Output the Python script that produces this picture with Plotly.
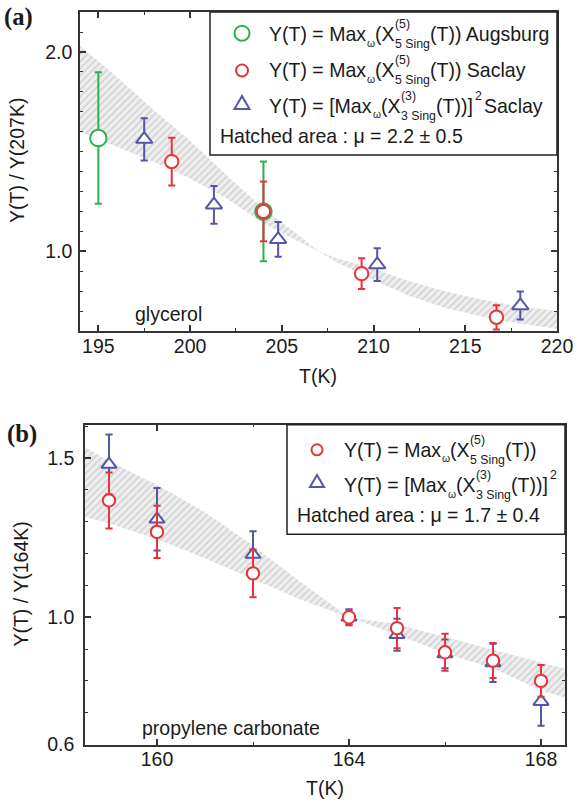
import plotly.graph_objects as go

W, H = 580, 802          # design frame (reference pixels)
FW, FH = 596, 818        # figure size actually laid out
K = FW / W               # pixel-size factor

# ---------------- data : panel (a) glycerol ----------------
T_aug = [195.0, 204.0]
Y_aug = [1.568, 1.20]
E_aug = [0.33, 0.25]

T_sac5 = [199.0, 204.0, 209.35, 216.7]
Y_sac5 = [1.45, 1.20, 0.888, 0.669]
E_sac5 = [0.12, 0.15, 0.077, 0.061]

T_sac3 = [197.5, 201.3, 204.8, 210.2, 218.0]
Y_sac3 = [1.562, 1.233, 1.06, 0.933, 0.728]
E_sac3 = [0.106, 0.095, 0.087, 0.082, 0.07]

T_band_a = [194, 196, 198, 200, 202, 204, 206, 207, 208, 210, 212, 214, 216, 218, 220]
band_a_mu_high = [2.03, 1.875, 1.71, 1.555, 1.38, 1.215, 1.075, 1.0, 0.945, 0.856, 0.775, 0.714, 0.67, 0.636, 0.612]
band_a_mu_low = [1.60, 1.525, 1.45, 1.365, 1.265, 1.14, 1.045, 1.0, 0.965, 0.912, 0.849, 0.797, 0.756, 0.722, 0.70]

# ---------------- data : panel (b) propylene carbonate ----------------
T_pc = [159, 160, 162, 164, 165, 166, 167, 168]
Y_pc5 = [1.367, 1.268, 1.138, 1.0, 0.966, 0.89, 0.864, 0.80]
E_pc5 = [0.088, 0.082, 0.075, 0.022, 0.063, 0.058, 0.055, 0.05]
Y_pc3 = [1.48, 1.308, 1.197, 1.0, 0.945, 0.885, 0.857, 0.735]
E_pc3 = [0.094, 0.098, 0.073, 0.025, 0.05, 0.045, 0.06, 0.076]

T_band_b = [158.5, 159, 160, 161, 162, 163, 164, 165, 166, 167, 168, 168.5]
band_b_mu_high = [1.535, 1.49, 1.415, 1.33, 1.225, 1.11, 1.0, 0.945, 0.887, 0.84, 0.77, 0.748]
band_b_mu_low = [1.315, 1.295, 1.245, 1.185, 1.12, 1.055, 1.0, 0.978, 0.94, 0.898, 0.858, 0.838]

# ---------------- styles ----------------
SANS = "Liberation Sans, Arial, sans-serif"
SERIF = "Liberation Serif, Times New Roman, serif"
TXT = "#1a1a1a"
AX = "#333333"
GREEN = "#2db14f"
RED = "#e8333b"
BLUE = "#5656a8"
FS = 19 * K
SUB = 12 * K

fig = go.Figure()


def band(T, e1, e2, xa, ya):
    return go.Scatter(
        x=list(T) + list(T)[::-1], y=list(e1) + list(e2)[::-1],
        xaxis=xa, yaxis=ya, mode="lines", fill="toself",
        line=dict(width=0, color="rgba(0,0,0,0)"),
        fillcolor="#e6e6e6",
        fillpattern=dict(shape="/", bgcolor="#eeeeee", fgcolor="#b4b4b4", size=5, solidity=0.3),
        hoverinfo="skip", showlegend=False)


def pts(T, Y, E, color, symbol, size, xa, ya):
    return go.Scatter(
        x=T, y=Y, xaxis=xa, yaxis=ya, mode="markers",
        error_y=dict(type="data", array=E, color=color, thickness=2, width=3.5 * K),
        marker=dict(symbol=symbol, size=size * K, color="white", line=dict(color=color, width=2)),
        showlegend=False)


fig.add_trace(band(T_band_a, band_a_mu_high, band_a_mu_low, "x", "y"))
fig.add_trace(pts(T_aug, Y_aug, E_aug, GREEN, "circle", 16, "x", "y"))
fig.add_trace(pts(T_sac5, Y_sac5, E_sac5, RED, "circle", 13, "x", "y"))
fig.add_trace(pts(T_sac3, Y_sac3, E_sac3, BLUE, "triangle-up", 14, "x", "y"))

fig.add_trace(band(T_band_b, band_b_mu_high, band_b_mu_low, "x2", "y2"))
fig.add_trace(pts(T_pc, Y_pc3, E_pc3, BLUE, "triangle-up", 13, "x2", "y2"))
fig.add_trace(pts(T_pc, Y_pc5, E_pc5, RED, "circle", 12, "x2", "y2"))


def axstyle(**kw):
    d = dict(showline=True, linecolor=AX, linewidth=1.5, mirror="allticks",
             ticks="inside", ticklen=6 * K, tickwidth=1.5, tickcolor=AX,
             showgrid=False, zeroline=False, fixedrange=True,
             tickfont=dict(family=SANS, size=FS, color=TXT))
    d.update(kw)
    return d


def minor(dt, t0):
    return dict(ticks="inside", ticklen=3 * K, tickwidth=1.2, tickcolor=AX, dtick=dt, tick0=t0)


def py(v):
    return 1 - v / H


fig.update_layout(
    width=FW, height=FH, margin=dict(l=0, r=0, t=0, b=0),
    paper_bgcolor="white", plot_bgcolor="white", showlegend=False,
    xaxis=axstyle(domain=[80 / W, 557 / W], range=[194, 220], anchor="y",
                  tickmode="linear", tick0=195, dtick=5, ticklabelstandoff=-3,
                  minor=minor(2.5, 195)),
    yaxis=axstyle(domain=[py(329), py(12)], range=[0.6, 2.2], anchor="x",
                  tickmode="linear", tick0=0, dtick=1.0, tickformat=".1f", ticklabelstandoff=2,
                  minor=minor(0.1, 0)),
    xaxis2=axstyle(domain=[85 / W, 565 / W], range=[158.5, 168.5], anchor="y2",
                   tickmode="array", tickvals=[160, 164, 168], ticklabelstandoff=-4,
                   minor=minor(2, 160)),
    yaxis2=axstyle(domain=[py(740), py(422)], range=[0.6, 1.605], anchor="x2",
                   tickmode="array", tickvals=[0.6, 1.0, 1.5], tickformat=".1f", ticklabelstandoff=5,
                   minor=minor(0.1, 0.6)),
)

annots = []
shapes = []


def txt(x, y, s, size=FS, anchor="left", family=SANS, **kw):
    annots.append(dict(x=x / W, y=py(y), xref="paper", yref="paper", text=s, showarrow=False,
                       xanchor=anchor, yanchor="middle",
                       font=dict(family=family, size=size, color=TXT), **kw))


def circ(cx, cy, d, color):
    r = d / 2
    shapes.append(dict(type="circle", xref="paper", yref="paper",
                       x0=(cx - r) / W, x1=(cx + r) / W, y0=py(cy + r), y1=py(cy - r),
                       line=dict(color=color, width=2), fillcolor="white", layer="above"))


def tri(cx, cy, w, h, color):
    p = "M {} {} L {} {} L {} {} Z".format(
        (cx - w / 2) / W, py(cy + h / 3), (cx + w / 2) / W, py(cy + h / 3), cx / W, py(cy - 2 * h / 3))
    shapes.append(dict(type="path", xref="paper", yref="paper", path=p,
                       line=dict(color=color, width=2), fillcolor="white", layer="above"))


def box(x0, y0, x1, y1):
    shapes.append(dict(type="rect", xref="paper", yref="paper",
                       x0=x0 / W, x1=x1 / W, y0=py(y1), y1=py(y0),
                       line=dict(color="#222", width=1.5), fillcolor="white", layer="above"))


# panel labels
txt(2, 17, "<b>(a)</b>", size=24 * K, family=SERIF)
txt(5, 431, "<b>(b)</b>", size=24 * K, family=SERIF)

# axis titles
txt(17, 160, "Y(T) / Y(207K)", anchor="center", textangle=-90)
txt(318, 374, "T(K)", anchor="center")
txt(21, 581, "Y(T) / Y(164K)", anchor="center", textangle=-90)
txt(325, 783, "T(K)", anchor="center")

# sample names
txt(133, 312, "glycerol")
txt(140, 723, "propylene carbonate")

# ---- legend (a)
box(210, 12, 557, 154)
circ(242, 33, 15, GREEN)
circ(242, 70, 12, RED)
tri(242, 104, 15, 13, BLUE)
for yc, tail in [(34, "(T)) Augsburg"), (70, "(T)) Saclay")]:
    txt(267, yc, "Y(T) = Max")
    txt(365, yc + 9, "ω", size=SUB - 2)
    txt(373, yc, "(X")
    txt(393, yc - 10, "(5)", size=SUB)
    txt(393, yc + 10, "5 Sing", size=SUB)
    txt(428, yc, tail)
yc = 105
txt(267, yc, "Y(T) = [Max")
txt(371, yc + 9, "ω", size=SUB - 2)
txt(379, yc, "(X")
txt(399, yc - 10, "(3)", size=SUB)
txt(399, yc + 10, "3 Sing", size=SUB)
txt(434, yc, "(T))]")
txt(473, yc - 10, "2", size=SUB)
txt(482, yc, "Saclay")
txt(218, 135, "Hatched area : μ = 2.2 ± 0.5")

# ---- legend (b)
box(287, 422, 565, 531)
circ(317, 447, 11, RED)
tri(317, 480, 14, 12, BLUE)
yc = 447
txt(342, yc, "Y(T) = Max")
txt(440, yc + 9, "ω", size=SUB - 2)
txt(448, yc, "(X")
txt(468, yc - 10, "(5)", size=SUB)
txt(468, yc + 10, "5 Sing", size=SUB)
txt(503, yc, "(T))")
yc = 482
txt(342, yc, "Y(T) = [Max")
txt(446, yc + 9, "ω", size=SUB - 2)
txt(454, yc, "(X")
txt(474, yc - 10, "(3)", size=SUB)
txt(474, yc + 10, "3 Sing", size=SUB)
txt(509, yc, "(T))]")
txt(548, yc - 10, "2", size=SUB)
txt(295, 512, "Hatched area : μ = 1.7 ± 0.4")

fig.update_layout(annotations=annots, shapes=shapes)

post = ("document.body.style.margin = '0px';")
fig.write_html("out.html", config={"displayModeBar": False}, post_script=post)
